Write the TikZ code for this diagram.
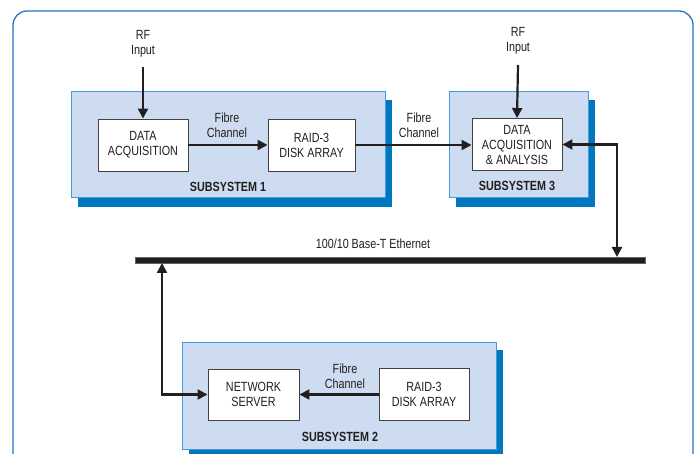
\documentclass[tikz,border=0pt]{standalone}
\usepackage{fontspec}
\setmainfont{Liberation Sans}[FakeStretch=0.81]
\usetikzlibrary{arrows.meta}
\definecolor{frameblue}{RGB}{45,112,200}
\definecolor{subfill}{RGB}{205,220,240}
\definecolor{subedge}{RGB}{70,155,220}
\definecolor{shadowblue}{RGB}{0,120,192}
\definecolor{ink}{RGB}{35,31,32}
\tikzset{
  lbl/.style={font=\fontsize{13.3}{15}\selectfont, text=ink, align=center, inner sep=0pt},
  sublbl/.style={font=\fontsize{13.3}{15}\selectfont\bfseries, text=ink, inner sep=0pt},
  blk/.style={draw=ink!85, line width=0.9pt, fill=white, align=center, inner sep=0pt,
    font=\fontsize{13.3}{15}\selectfont, text=ink},
  subbox/.style={draw=subedge, line width=1pt, fill=subfill},
  shadow/.style={fill=shadowblue},
  arr/.style={draw=ink, line width=2.2pt, -{Triangle[length=10pt,width=10pt]}},
  darr/.style={draw=ink, line width=2.2pt, {Triangle[length=10pt,width=10pt]}-{Triangle[length=10pt,width=10pt]}},
  bar/.style={fill=ink, draw=ink!70, line width=0.6pt}
}
\begin{document}
\begin{tikzpicture}[x=1pt,y=-1pt]
\useasboundingbox (0,0) rectangle (696,454);
% outer frame
\draw[frameblue, line width=1.3pt, rounded corners=14pt] (13,470) -- (13,11) -- (693,11) -- (693,470);
% subsystem boxes with shadows
\fill[shadow] (78,100) rectangle (392,207);
\draw[subbox] (71,92) rectangle (385,198);
\fill[shadow] (456,100) rectangle (595,207);
\draw[subbox] (449,92) rectangle (588,198);
\fill[shadow] (189,350) rectangle (503,460);
\draw[subbox] (182,342) rectangle (496,449);
% subsystem labels
\node[sublbl] (s1) at (228,187) {SUBSYSTEM 1};
\node[sublbl] (s3) at (517,186) {SUBSYSTEM 3};
\node[sublbl] (s2) at (340,437) {SUBSYSTEM 2};
% blocks
\node[blk, minimum width=90pt, minimum height=52pt] (daq) at (143,145) {DATA\\ACQUISITION};
\node[blk, minimum width=87pt, minimum height=52pt] (raid1) at (311.5,145) {RAID-3\\DISK ARRAY};
\node[blk, minimum width=90pt, minimum height=52pt] (daqa) at (517,144.5) {DATA\\ACQUISITION\\\& ANALYSIS};
\node[blk, minimum width=91pt, minimum height=51pt] (ns) at (253.5,394.5) {NETWORK\\SERVER};
\node[blk, minimum width=90pt, minimum height=52pt] (raid2) at (424,394.5) {RAID-3\\DISK ARRAY};
% ethernet bar
\draw[bar] (135,257) rectangle (645,263);
\node[lbl] (eth) at (373,244) {100/10 Base-T Ethernet};
\coordinate (e1) at (617,257);
\coordinate (e2) at (162,263);
% labels
\node[lbl] (rf1) at (143,43.5) {RF\\Input};
\node[lbl] (rf2) at (518,41) {RF\\Input};
\coordinate (rf1s) at (143,67);
\coordinate (rf2s) at (518,65);
\node[lbl] (fc1) at (227,125.5) {Fibre\\Channel};
\node[lbl] (fc2) at (419,125.5) {Fibre\\Channel};
\node[lbl] (fc3) at (345,376) {Fibre\\Channel};
% connectors
\draw[arr] (rf1s) -- (daq.north);
\draw[arr] (rf2s) -- (daqa.north);
\draw[arr] (daq.east) -- (raid1.west);
\draw[arr] (raid1.east) -- (raid1.east -| daqa.west);
\draw[darr] (e1) |- (daqa.east);
\draw[darr] (e2) |- (ns.west);
\draw[arr] (raid2.west) -- (ns.east);
\end{tikzpicture}
\end{document}
